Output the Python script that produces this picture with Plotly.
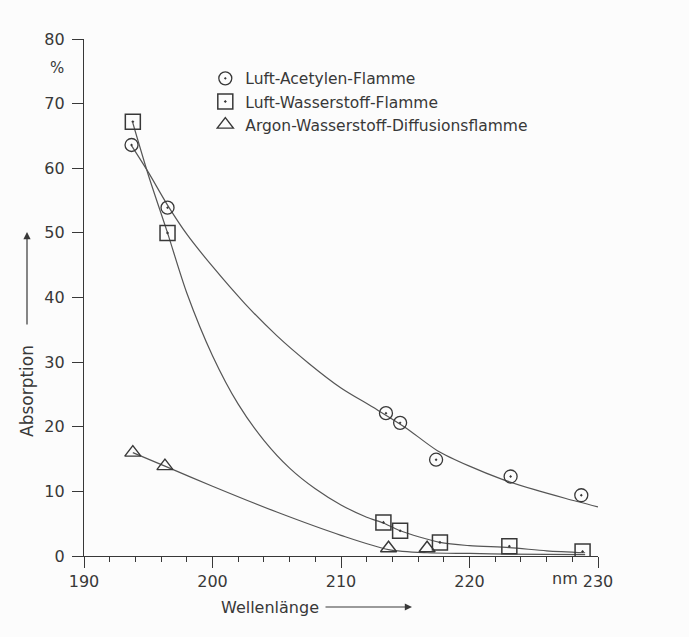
import plotly.graph_objects as go

# Measured points (wavelength in nm, absorption in %)
acet_x = [193.7, 196.5, 213.5, 214.6, 217.4, 223.2, 228.7]
acet_y = [63.6, 53.9, 22.1, 20.6, 14.9, 12.3, 9.4]

h2_x = [193.8, 196.5, 213.3, 214.6, 217.7, 223.1, 228.8]
h2_y = [67.2, 50.0, 5.2, 3.9, 2.1, 1.5, 0.7]

ar_x = [193.8, 196.3, 213.7, 216.7]
ar_y = [16.0, 13.9, 1.2, 1.2]

# Hand-drawn fit curves
acet_fit_x = [193.7, 195.0, 196.5, 198.0, 200.0, 202.5, 205.0, 207.5, 210.0, 212.5, 215.0, 217.5, 220.0, 222.5, 225.0, 227.5, 230.0]
acet_fit_y = [63.5, 59.4, 54.3, 49.8, 44.8, 39.1, 34.1, 29.8, 26.0, 23.0, 19.9, 16.3, 13.9, 11.9, 10.3, 8.9, 7.6]

h2_fit_x = [193.8, 195.0, 196.5, 198.0, 200.0, 202.0, 204.0, 206.0, 208.0, 210.0, 212.0, 213.3, 214.6, 217.7, 220.0, 223.1, 226.0, 229.0]
h2_fit_y = [67.0, 59.0, 50.0, 40.7, 31.0, 23.5, 17.9, 13.6, 10.4, 7.9, 6.0, 5.1, 3.9, 2.1, 1.6, 1.3, 0.8, 0.5]

ar_fit_x = [193.8, 196.3, 200.0, 205.0, 210.0, 213.7, 216.7, 220.0, 223.0, 229.0]
ar_fit_y = [16.0, 13.9, 10.8, 6.8, 3.2, 1.0, 0.5, 0.4, 0.3, 0.2]

names = ["Luft-Acetylen-Flamme", "Luft-Wasserstoff-Flamme", "Argon-Wasserstoff-Diffusionsflamme"]

x_ticks = [190, 200, 210, 220, 230]
y_ticks = [0, 10, 20, 30, 40, 50, 60, 70, 80]

INK = "#383838"
LINE = "#555555"
FONT = "DejaVu Sans, Arial, sans-serif"

fig = go.Figure()

for fx, fy in [(acet_fit_x, acet_fit_y), (h2_fit_x, h2_fit_y), (ar_fit_x, ar_fit_y)]:
    fig.add_trace(go.Scatter(x=fx, y=fy, mode="lines",
                             line=dict(color=LINE, width=1.2, shape="spline", smoothing=0.8),
                             showlegend=False, hoverinfo="skip"))

fig.add_trace(go.Scatter(x=acet_x, y=acet_y, mode="markers", name=names[0],
                         marker=dict(symbol="circle-open-dot", size=13, color=INK, line=dict(width=1.3))))
fig.add_trace(go.Scatter(x=h2_x, y=h2_y, mode="markers", name=names[1],
                         marker=dict(symbol="square-open-dot", size=15, color=INK, line=dict(width=1.5))))
fig.add_trace(go.Scatter(x=ar_x, y=ar_y, mode="markers", name=names[2],
                         marker=dict(symbol="triangle-up-open", size=14, color=INK, line=dict(width=1.4))))

fig.update_layout(
    width=689, height=637,
    margin=dict(l=84, r=91, t=39, b=81),
    paper_bgcolor="#fcfcfc", plot_bgcolor="#fcfcfc",
    font=dict(family=FONT, size=16, color=INK),
    showlegend=True,
    legend=dict(x=0.236, y=0.956, xanchor="left", yanchor="top", bgcolor="rgba(0,0,0,0)",
                font=dict(size=15.5, color=INK), tracegroupgap=0, itemwidth=30),
    xaxis=dict(range=[190, 230], tickvals=x_ticks, ticktext=[str(v) for v in x_ticks],
               showgrid=False, zeroline=False, showline=True, linecolor=INK, linewidth=1.3,
               ticks="outside", ticklen=11, tickwidth=1.3, tickcolor=INK,
               minor=dict(dtick=2, ticks="outside", ticklen=5, tickwidth=1, tickcolor=INK),
               tickfont=dict(size=16, color=INK)),
    yaxis=dict(range=[0, 80], tickvals=y_ticks, ticktext=[str(v) for v in y_ticks],
               showgrid=False, zeroline=False, showline=True, linecolor=INK, linewidth=1.3,
               ticks="outside", ticklen=11, tickwidth=1.3, tickcolor=INK,
               tickfont=dict(size=16, color=INK), ticklabelstandoff=4),
)

# unit labels
fig.add_annotation(x=227.4, xref="x", y=0, yref="paper", yshift=-22, text="nm",
                   showarrow=False, font=dict(size=16, color=INK), yanchor="middle", xanchor="center")
fig.add_annotation(x=(57 - 84) / 514, xref="paper", y=1 - (68 - 39) / 517, yref="paper", text="%",
                   showarrow=False, font=dict(size=15, color=INK), xanchor="center", yanchor="middle")

# axis titles with arrows
fig.add_annotation(x=(27 - 84) / 514, xref="paper", y=1 - (391 - 39) / 517, yref="paper",
                   text="Absorption", textangle=-90, xanchor="center", yanchor="middle",
                   showarrow=False, font=dict(size=17, color=INK))
fig.add_annotation(x=(27 - 84) / 514, xref="paper", y=1 - (232 - 39) / 517, yref="paper", text="",
                   showarrow=True, ax=0, ay=94, axref="pixel", ayref="pixel",
                   arrowhead=2, arrowsize=1.2, arrowwidth=1.2, arrowcolor=INK)
fig.add_annotation(x=(270 - 84) / 514, xref="paper", y=-(607 - 556) / 517, yref="paper",
                   text="Wellenlänge", xanchor="center", yanchor="middle",
                   showarrow=False, font=dict(size=16, color=INK))
fig.add_annotation(x=(412 - 84) / 514, xref="paper", y=-(607 - 556) / 517, yref="paper", text="",
                   showarrow=True, ax=-88, ay=0, axref="pixel", ayref="pixel",
                   arrowhead=2, arrowsize=1.2, arrowwidth=1.2, arrowcolor=INK)

fig.write_html("out.html")
